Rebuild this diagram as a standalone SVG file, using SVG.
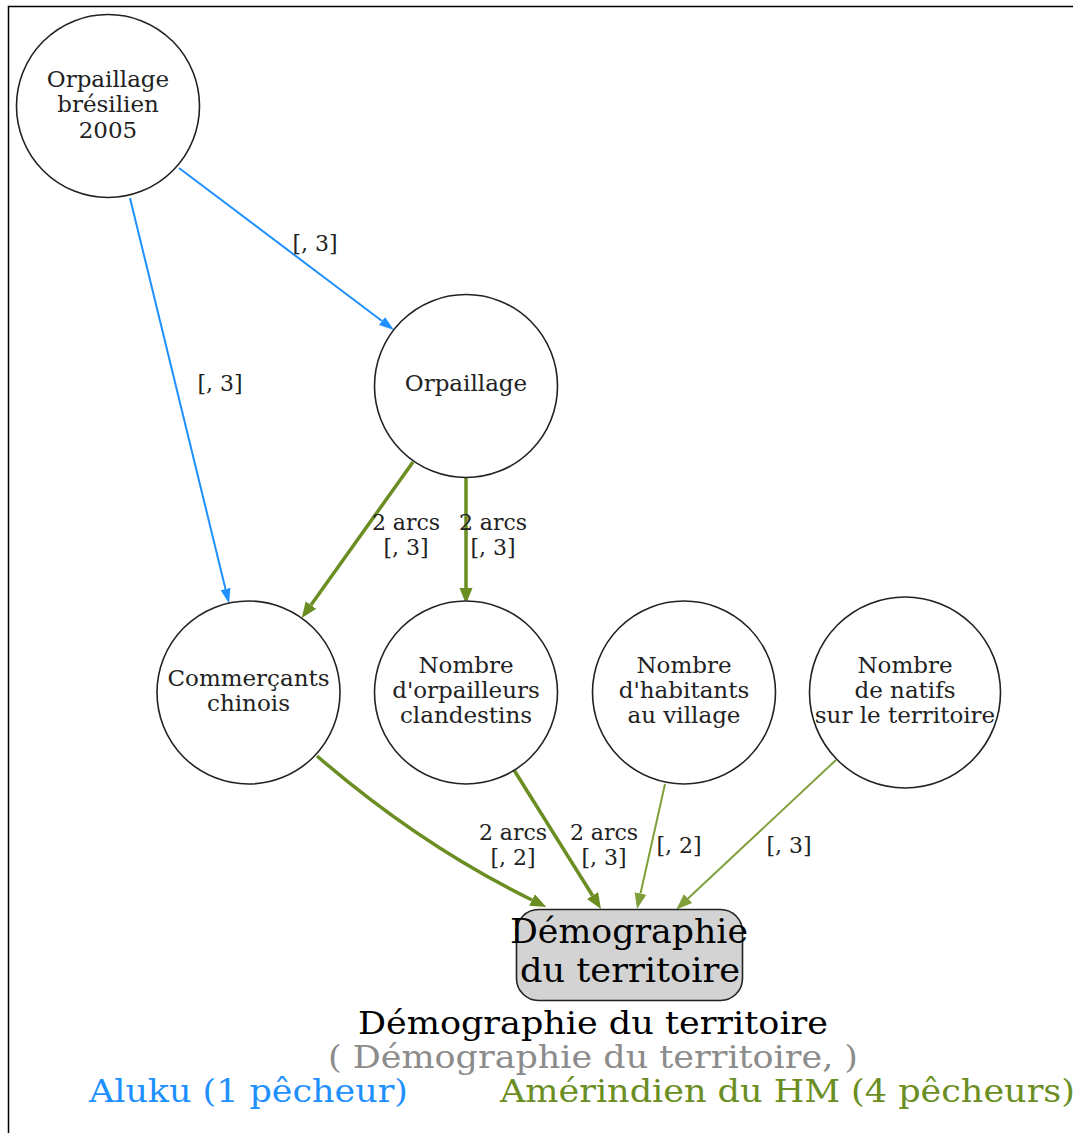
<svg xmlns="http://www.w3.org/2000/svg" width="1073" height="1133" viewBox="0 0 1073 1133">
<style>
.node circle{fill:#fff;stroke:#222;stroke-width:1.6}
.nt{font-family:"DejaVu Serif",serif;font-size:23px;fill:#222;text-anchor:middle}
.el{font-family:"DejaVu Serif",serif;font-size:22px;fill:#222;text-anchor:middle}
.blue{stroke:#1e90ff;stroke-width:2;fill:none}
.gk{stroke:#6b8e23;stroke-width:3.5;fill:none}
.gt{stroke:#7f9f3a;stroke-width:2;fill:none}
.lg{font-family:"DejaVu Serif Condensed","DejaVu Serif",serif;font-stretch:condensed;font-size:31px}
.bt{font-family:"DejaVu Serif",serif;font-size:33px;fill:#000;text-anchor:middle}
</style>
<defs>
<marker id="ab" markerUnits="userSpaceOnUse" markerWidth="15" markerHeight="12" viewBox="0 -6 15 12" refX="0" refY="0" orient="auto"><path d="M0,-5 L15,0 L0,5 z" fill="#1e90ff"/></marker>
<marker id="ag" markerUnits="userSpaceOnUse" markerWidth="16" markerHeight="14" viewBox="0 -7 16 14" refX="0" refY="0" orient="auto"><path d="M0,-6.5 L16,0 L0,6.5 z" fill="#6b8e23"/></marker>
<marker id="at" markerUnits="userSpaceOnUse" markerWidth="16" markerHeight="14" viewBox="0 -7 16 14" refX="0" refY="0" orient="auto"><path d="M0,-6 L16,0 L0,6 z" fill="#7f9f3a"/></marker>
</defs>
<rect x="8.5" y="6.5" width="1080" height="1140" fill="#fff" stroke="#000" stroke-width="1.5"/>
<g id="connectors">
<line class="blue" x1="179" y1="168" x2="382" y2="321" marker-end="url(#ab)"/>
<line class="blue" x1="130" y1="198" x2="225.5" y2="589" marker-end="url(#ab)"/>
<line class="gk" x1="413" y1="462" x2="311" y2="605" marker-end="url(#ag)"/>
<line class="gk" x1="466" y1="478" x2="466" y2="588" marker-end="url(#ag)"/>
<path class="gk" d="M317,756 Q420,845 532,900" marker-end="url(#ag)"/>
<line class="gk" x1="514" y1="770" x2="592.5" y2="895.5" marker-end="url(#ag)"/>
<line class="gt" x1="665" y1="784" x2="640.5" y2="893.5" marker-end="url(#at)"/>
<line class="gt" x1="836" y1="760" x2="688" y2="898.5" marker-end="url(#at)"/>
<text class="el" x="315" y="251">[, 3]</text>
<text class="el" x="220" y="391">[, 3]</text>
<text class="el" x="406" y="530">2 arcs</text>
<text class="el" x="406" y="555">[, 3]</text>
<text class="el" x="493" y="530">2 arcs</text>
<text class="el" x="493" y="555">[, 3]</text>
<text class="el" x="513" y="840">2 arcs</text>
<text class="el" x="513" y="865">[, 2]</text>
<text class="el" x="604" y="840">2 arcs</text>
<text class="el" x="604" y="865">[, 3]</text>
<text class="el" x="679" y="853">[, 2]</text>
<text class="el" x="789" y="853">[, 3]</text>
</g>
<g id="n1" class="node"><circle cx="108" cy="106" r="91.5"/>
<text class="nt" x="108" y="87">Orpaillage</text><text class="nt" x="108" y="112">brésilien</text><text class="nt" x="108" y="138">2005</text></g>
<g id="n2" class="node"><circle cx="466" cy="386" r="91.5"/>
<text class="nt" x="466" y="391">Orpaillage</text></g>
<g id="n3" class="node"><circle cx="248.5" cy="692.5" r="91.5"/>
<text class="nt" x="248.5" y="686">Commerçants</text><text class="nt" x="248.5" y="711">chinois</text></g>
<g id="n4" class="node"><circle cx="466" cy="692.5" r="91.5"/>
<text class="nt" x="466" y="673">Nombre</text><text class="nt" x="466" y="698">d'orpailleurs</text><text class="nt" x="466" y="723">clandestins</text></g>
<g id="n5" class="node"><circle cx="684" cy="692.5" r="91.5"/>
<text class="nt" x="684" y="673">Nombre</text><text class="nt" x="684" y="698">d'habitants</text><text class="nt" x="684" y="723">au village</text></g>
<g id="n6" class="node"><circle cx="905" cy="692.5" r="95.5"/>
<text class="nt" x="905" y="673">Nombre</text><text class="nt" x="905" y="698">de natifs</text><text class="nt" x="905" y="723">sur le territoire</text></g>
<g id="n7" class="node"><rect x="516.5" y="909.5" width="226" height="91" rx="22" fill="#d3d3d3" stroke="#222" stroke-width="1.6"/>
<text class="bt" x="629" y="943" textLength="238" lengthAdjust="spacingAndGlyphs">Démographie</text>
<text class="bt" x="630" y="982" textLength="220" lengthAdjust="spacingAndGlyphs">du territoire</text></g>
<g id="legend">
<text class="lg" x="593" y="1034" text-anchor="middle" fill="#000" textLength="470" lengthAdjust="spacingAndGlyphs">Démographie du territoire</text>
<text class="lg" x="593" y="1068" text-anchor="middle" fill="#8c8c8c" textLength="530" lengthAdjust="spacingAndGlyphs">( Démographie du territoire, )</text>
<text class="lg" x="89" y="1102" fill="#1e90ff" textLength="319" lengthAdjust="spacingAndGlyphs">Aluku (1 pêcheur)</text>
<text class="lg" x="500" y="1102" fill="#6b8e23" textLength="575" lengthAdjust="spacingAndGlyphs">Amérindien du HM (4 pêcheurs)</text>
</g>
</svg>
